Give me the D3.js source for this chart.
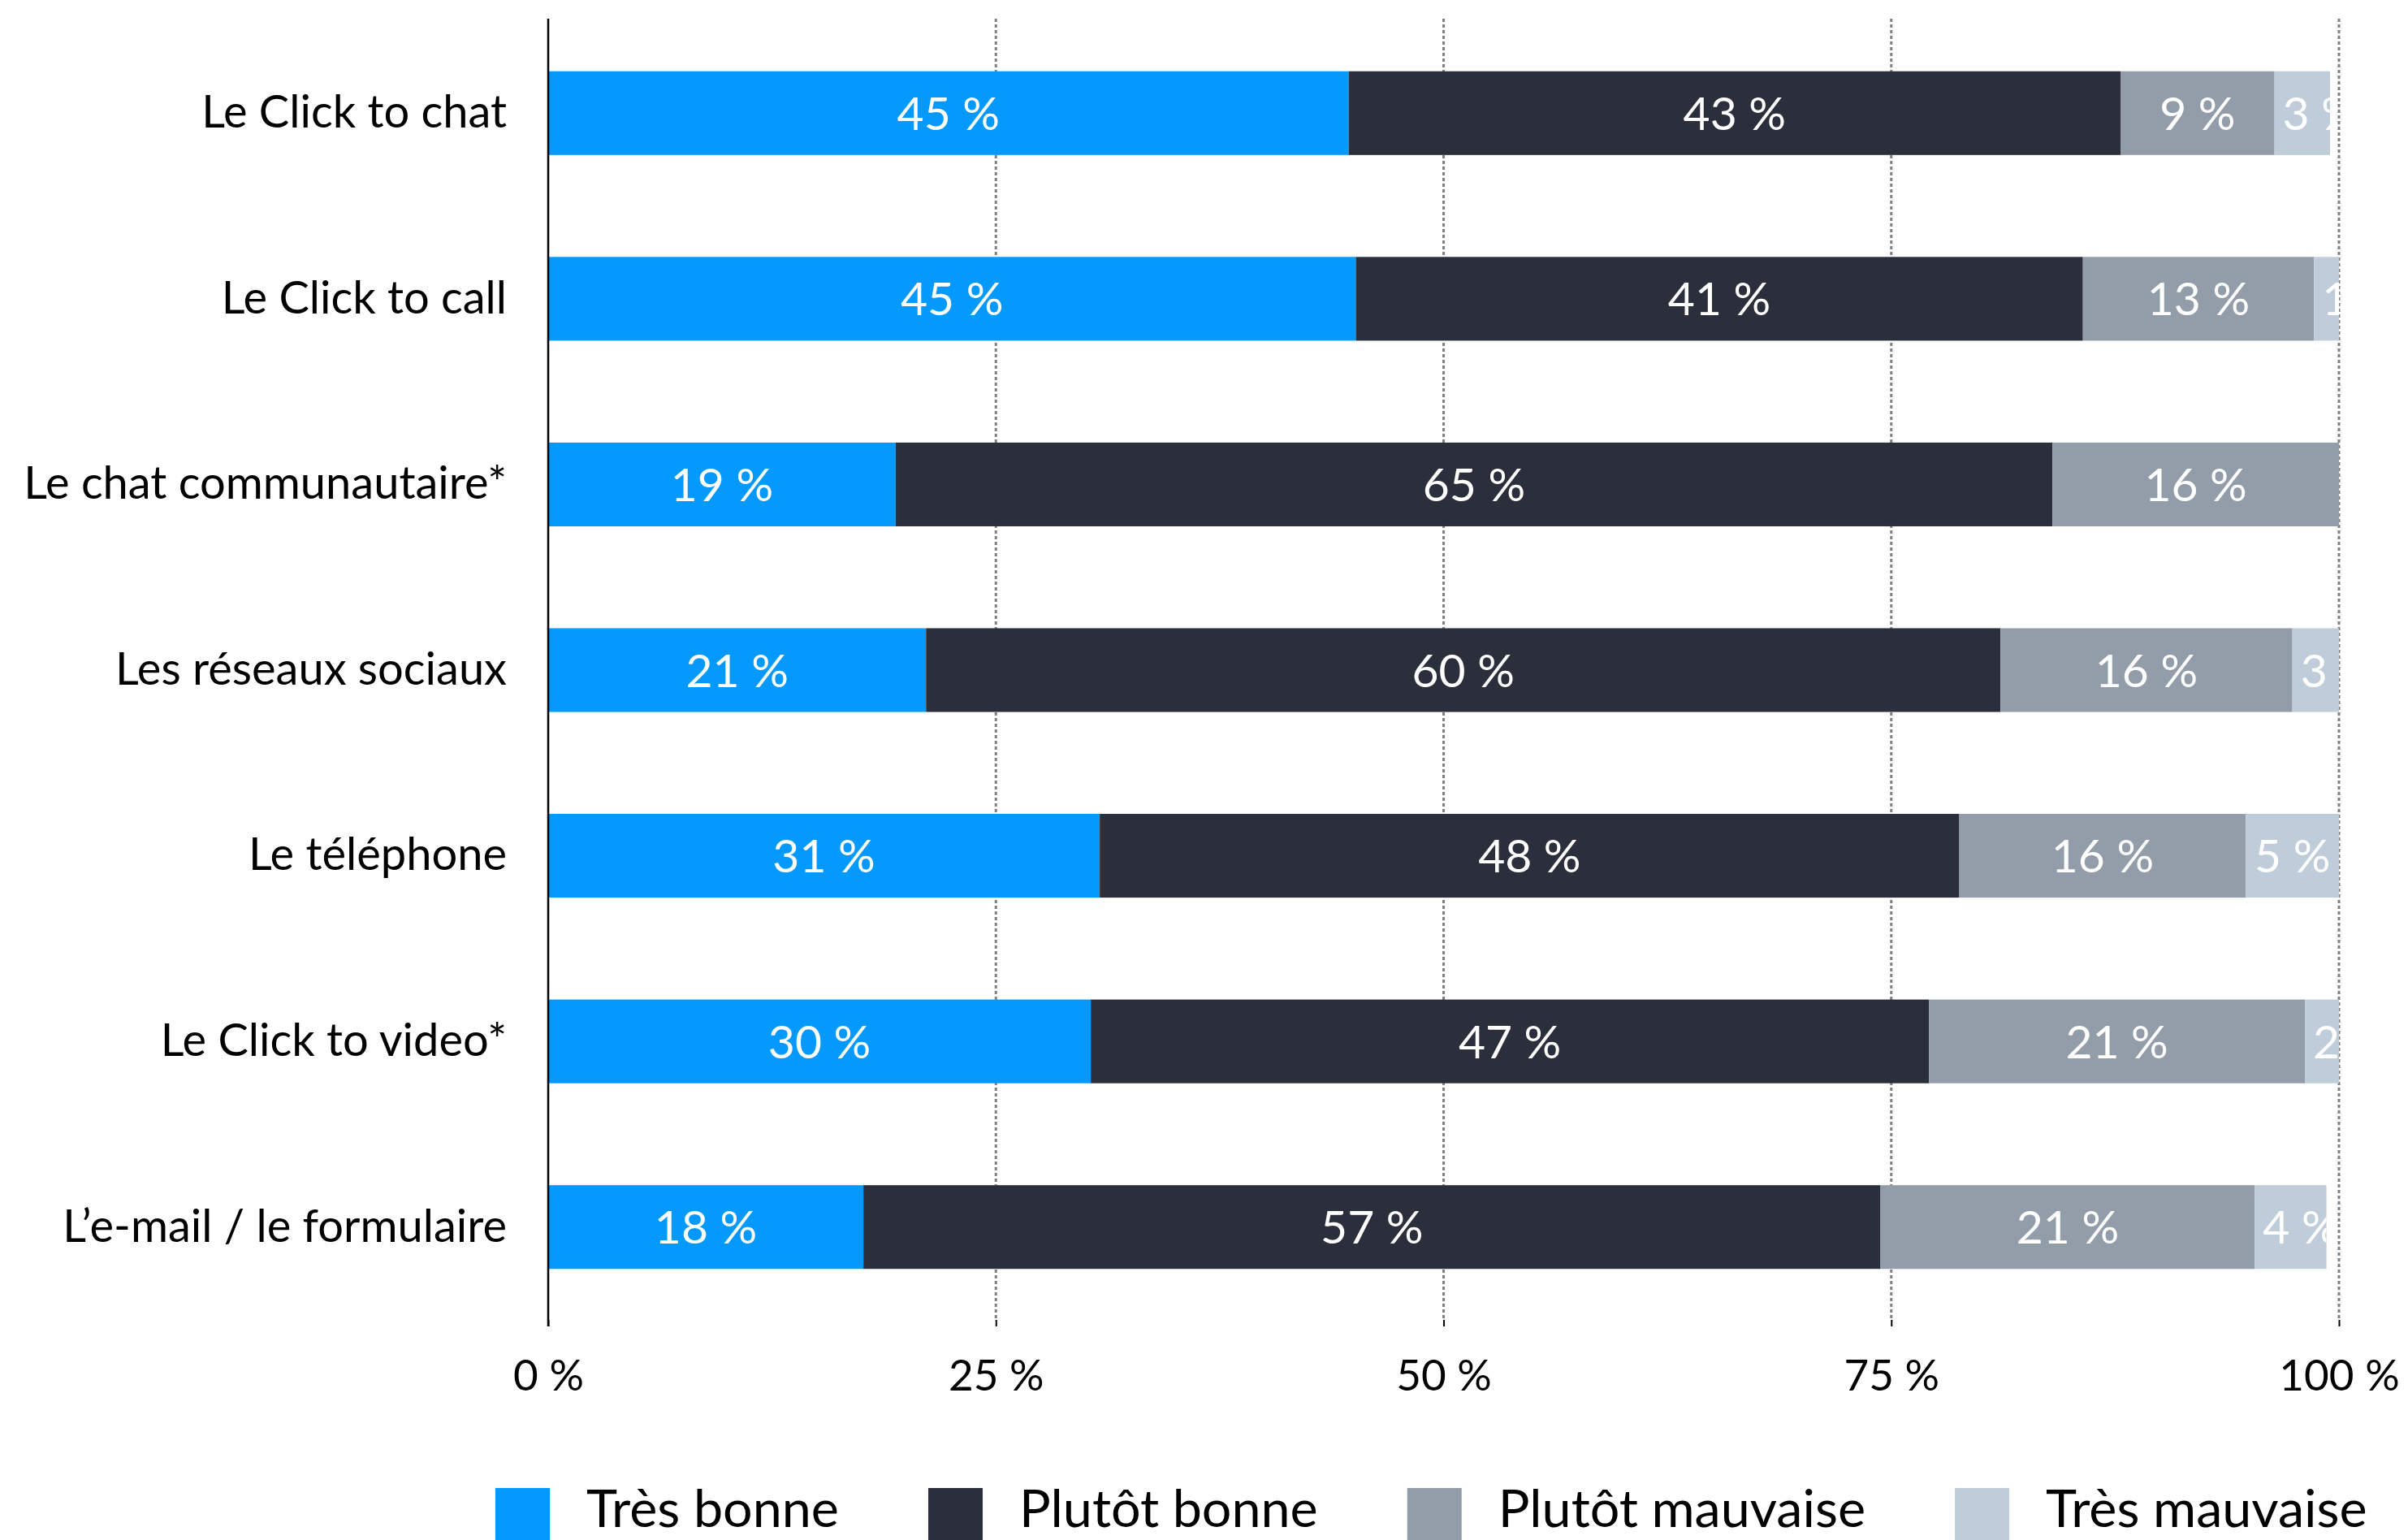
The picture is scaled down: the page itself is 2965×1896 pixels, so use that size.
<!DOCTYPE html>
<html>
<head>
<meta charset="utf-8">
<script src="https://cdn.jsdelivr.net/npm/d3@7"></script>
<style>
  html, body { margin: 0; padding: 0; background: #ffffff; }
  svg { display: block; }
  text { font-family: "Lato", "Open Sans", sans-serif; }
</style>
</head>
<body>
<script>
// Canaux de contact : appréciation (en % des répondants)
const categories = [
  "Le Click to chat",
  "Le Click to call",
  "Le chat communautaire*",
  "Les réseaux sociaux",
  "Le téléphone",
  "Le Click to video*",
  "L\u2019e-mail / le formulaire"
];
const seriesNames = ["Très bonne", "Plutôt bonne", "Plutôt mauvaise", "Très mauvaise"];
const tresBonne      = [44.7, 45.1, 19.4, 21.1, 30.8, 30.3, 17.6];
const plutotBonne    = [43.1, 40.6, 64.6, 60.0, 48.0, 46.8, 56.8];
const plutotMauvaise = [8.6, 12.9, 16.0, 16.3, 16.0, 21.0, 20.9];
const tresMauvaise   = [3.1, 1.4, 0, 2.6, 5.2, 1.9, 4.0];
const xTicks = [0, 25, 50, 75, 100];
const colors = ["#0399ff", "#2a2f3b", "#939da9", "#bfccd9"];

const W = 2965, H = 1896;
const seriesValues = [tresBonne, plutotBonne, plutotMauvaise, tresMauvaise];

const rows = categories.map((c, i) => {
  const r = { cat: c };
  seriesNames.forEach((s, k) => { r[s] = seriesValues[k][i]; });
  return r;
});
const stacked = d3.stack().keys(seriesNames)(rows);

const svg = d3.select("body").append("svg")
  .attr("width", W).attr("height", H)
  .attr("viewBox", `0 0 ${W} ${H}`);

const x = d3.scaleLinear().domain([0, 100]).range([675, 2880]);
const y = d3.scaleBand().domain(categories).range([25, 1625])
  .paddingInner(0.549).paddingOuter(0.2745);

const plotTop = 23, plotBottom = 1625;

// dashed vertical gridlines
svg.append("g").selectAll("line")
  .data(xTicks.filter(t => t > 0))
  .join("line")
  .attr("x1", d => x(d)).attr("x2", d => x(d))
  .attr("y1", plotTop).attr("y2", plotBottom)
  .attr("stroke", "#808080")
  .attr("stroke-width", 3)
  .attr("stroke-dasharray", "4,3");

// bottom axis: short ticks and percent labels
const xAxis = d3.axisBottom(x)
  .tickValues(xTicks)
  .tickSize(8)
  .tickPadding(41)
  .tickFormat(d => d + " %");
const gx = svg.append("g")
  .attr("transform", `translate(0,${plotBottom})`)
  .call(xAxis);
gx.select(".domain").remove();
gx.selectAll(".tick line").attr("stroke", "#000").attr("stroke-width", 2);
gx.selectAll(".tick text")
  .attr("fill", "#000")
  .style("font-family", "Lato, 'Open Sans', sans-serif")
  .style("font-size", "53px");

// stacked segments
const defs = svg.append("defs");
const layers = svg.append("g").selectAll("g")
  .data(stacked)
  .join("g")
  .attr("fill", (d, i) => colors[i]);

layers.selectAll("rect")
  .data(d => d.map(p => ({ p, key: d.key })))
  .join("rect")
  .attr("x", d => x(d.p[0]))
  .attr("y", d => y(d.p.data.cat))
  .attr("width", d => x(d.p[1]) - x(d.p[0]))
  .attr("height", y.bandwidth());

// segment labels, clipped to their own segment
const labelG = svg.append("g");
stacked.forEach((layer, li) => {
  layer.forEach((p, ci) => {
    const v = p[1] - p[0];
    if (v <= 0) return;
    const x0 = x(p[0]), x1 = x(p[1]);
    const w = x1 - x0;
    const yc = y(p.data.cat) + y.bandwidth() / 2;
    const id = `clip-${li}-${ci}`;
    defs.append("clipPath").attr("id", id)
      .append("rect")
      .attr("x", x0).attr("y", y(p.data.cat))
      .attr("width", w).attr("height", y.bandwidth());
    const t = labelG.append("text")
      .attr("clip-path", `url(#${id})`)
      .attr("fill", "#ffffff")
      .style("font-size", "57px")
      .attr("y", yc)
      .attr("dy", "0.36em")
      .text(Math.round(v) + " %");
    const tw = t.node().getComputedTextLength();
    if (tw + 20 <= w) {
      t.attr("x", (x0 + x1) / 2).attr("text-anchor", "middle");
    } else {
      t.attr("x", x0 + 10).attr("text-anchor", "start");
    }
  });
});

// vertical axis line
svg.append("line")
  .attr("x1", x(0)).attr("x2", x(0))
  .attr("y1", plotTop).attr("y2", plotBottom + 8)
  .attr("stroke", "#000").attr("stroke-width", 2.5);

// category labels
svg.append("g").selectAll("text")
  .data(categories)
  .join("text")
  .attr("x", 624)
  .attr("y", d => y(d) + y.bandwidth() / 2)
  .attr("dy", "0.32em")
  .attr("text-anchor", "end")
  .attr("fill", "#000")
  .style("font-size", "56px")
  .text(d => d);

// legend spread between x = 610 and x = 2915, font sized to fit that span
const legLeft = 610, legRight = 2915;
const sw = 67, gapText = 45, gapItem = 110, legTop = 1832, legBase = 1880;
const legend = svg.append("g");
let fontSize = 72;
const items = seriesNames.map((s, i) => {
  const g = legend.append("g");
  g.append("rect").attr("width", sw).attr("height", sw).attr("y", legTop).attr("fill", colors[i]);
  const t = g.append("text")
    .attr("x", sw + gapText).attr("y", legBase)
    .attr("fill", "#000")
    .style("font-size", fontSize + "px")
    .text(s);
  return { g, t };
});
const fixedW = items.length * (sw + gapText) + gapItem * (items.length - 1);
const textW = d3.sum(items, d => d.t.node().getComputedTextLength());
fontSize = Math.min(fontSize, fontSize * (legRight - legLeft - fixedW) / textW);
items.forEach(it => it.t.style("font-size", fontSize + "px"));
let cx = legLeft;
items.forEach(it => {
  it.g.attr("transform", `translate(${cx},0)`);
  cx += sw + gapText + it.t.node().getComputedTextLength() + gapItem;
});
</script>
</body>
</html>
